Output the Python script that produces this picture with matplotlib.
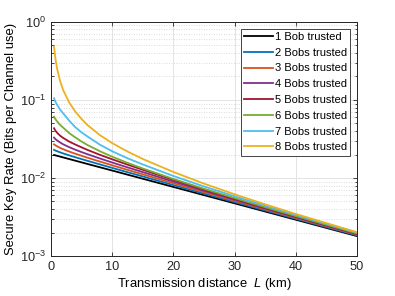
import numpy as np
import matplotlib
matplotlib.use("Agg")
import matplotlib.pyplot as plt
from matplotlib.ticker import LogLocator, NullFormatter

plt.rcParams['font.family'] = 'Liberation Sans'
plt.rcParams['mathtext.fontset'] = 'custom'
plt.rcParams['mathtext.rm'] = 'Liberation Sans'
plt.rcParams['mathtext.it'] = 'Liberation Sans:italic'

# transmission distance (km)
L = [0.5, 0.75, 1, 1.5, 2, 3, 4, 5, 6, 8, 10, 12.5, 15, 20, 25, 30, 35, 40, 45, 50]

# secure key rate
bob1 = [0.01972, 0.01948, 0.01925, 0.01879, 0.01834, 0.01747, 0.01665, 0.01586, 0.01511, 0.01372,
        0.01246, 0.01104, 0.00978, 0.00768, 0.00603, 0.004735, 0.003718, 0.002919, 0.002292, 0.00180]
bob2 = [0.02292, 0.02243, 0.02204, 0.02130, 0.02064, 0.01947, 0.01843, 0.01747, 0.01657, 0.01493,
        0.01348, 0.01187, 0.01047, 0.00811, 0.00631, 0.00491, 0.003834, 0.002997, 0.002344, 0.001836]
bob3 = [0.0270, 0.02616, 0.02549, 0.02433, 0.02337, 0.02178, 0.02045, 0.01925, 0.01816, 0.01623,
        0.01455, 0.01272, 0.01115, 0.00855, 0.00658, 0.00509, 0.00395, 0.003074, 0.002397, 0.001872]
bob4 = [0.0329, 0.0314, 0.0303, 0.0285, 0.0270, 0.0248, 0.0230, 0.02147, 0.02013, 0.01778,
        0.01579, 0.01368, 0.01190, 0.00900, 0.00686, 0.00526, 0.00406, 0.003145, 0.002443, 0.001903]
bob5 = [0.0434, 0.0402, 0.0380, 0.0348, 0.0326, 0.0292, 0.0268, 0.0247, 0.02285, 0.01980,
        0.01736, 0.01484, 0.01274, 0.00947, 0.00713, 0.00543, 0.00416, 0.00321, 0.002487, 0.001932]
bob6 = [0.0611, 0.0564, 0.0532, 0.0478, 0.0441, 0.0375, 0.0330, 0.0293, 0.0264, 0.0220,
        0.01874, 0.01564, 0.01324, 0.00972, 0.00728, 0.00553, 0.00422, 0.00325, 0.002514, 0.00195]
bob7 = [0.1051, 0.0941, 0.0870, 0.0750, 0.0673, 0.0540, 0.0446, 0.0384, 0.0339, 0.0267,
        0.0220, 0.0179, 0.01491, 0.01061, 0.00779, 0.00583, 0.00441, 0.003366, 0.002586, 0.001997]
bob8 = [0.481, 0.330, 0.2522, 0.1740, 0.1335, 0.0922, 0.0706, 0.0569, 0.0474, 0.0354,
        0.0280, 0.02183, 0.01753, 0.01193, 0.00847, 0.00618, 0.00459, 0.00346, 0.00264, 0.00202]

series = [bob1, bob2, bob3, bob4, bob5, bob6, bob7, bob8]
labels = ["1 Bob trusted"] + ["%d Bobs trusted" % n for n in range(2, 9)]
colours = ["k", (0, 0.447, 0.741), (0.85, 0.325, 0.098), (0.494, 0.184, 0.556),
           (0.635, 0.078, 0.184), (0.466, 0.674, 0.188), (0.301, 0.745, 0.933),
           (0.929, 0.694, 0.125)]

fig = plt.figure(figsize=(3.95, 2.96), dpi=100)
ax = fig.add_axes([0.129, 0.135, 0.775, 0.791])

for s, lab, c in zip(series, labels, colours):
    ax.plot(L, s, color=c, lw=1.3, label=lab)

ax.set_yscale("log")
ax.set_xlim(0, 50)
ax.set_ylim(1e-3, 1)
ax.set_xticks([0, 10, 20, 30, 40, 50])
ax.yaxis.set_minor_locator(LogLocator(base=10, subs=np.arange(2, 10)))
ax.yaxis.set_minor_formatter(NullFormatter())

ax.grid(which="major", color="#e3e3e3", lw=0.7, ls="-")
ax.grid(which="minor", axis="y", color="#d0d0d0", lw=0.6, ls=(0, (1, 2)))
ax.set_axisbelow(True)

ax.tick_params(which="both", direction="in", top=True, right=True, labelsize=9.2,
               colors="#262626", width=0.6)
ax.tick_params(which="major", length=3)
ax.tick_params(which="minor", length=1.8)
for sp in ax.spines.values():
    sp.set_color("#262626")
    sp.set_linewidth(0.7)

ax.set_xlabel("Transmission distance  $L$ (km)", fontsize=9.4, labelpad=2)
ax.set_ylabel("Secure Key Rate (Bits per Channel use)", fontsize=9.4, labelpad=2)

leg = ax.legend(loc="upper right", fontsize=8, fancybox=False, framealpha=1,
                edgecolor="#262626", handlelength=2.6, handletextpad=0.15,
                labelspacing=0.52, borderpad=0.3, borderaxespad=0.6)
leg.get_frame().set_linewidth(0.6)

fig.savefig("out.png", dpi=100)
